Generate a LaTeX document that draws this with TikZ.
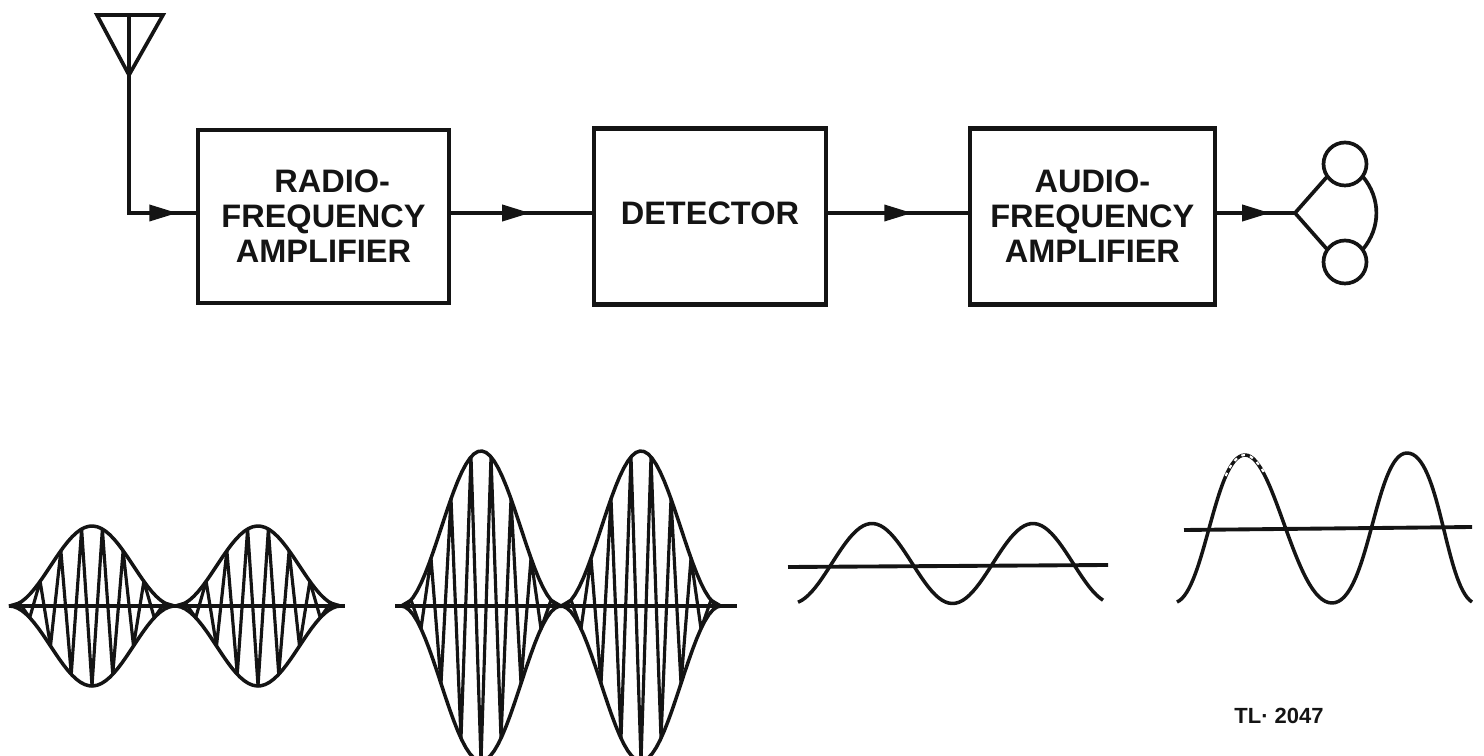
\documentclass[tikz,border=0pt]{standalone}
\usepackage{fontspec}
\setmainfont{Liberation Sans}
\usetikzlibrary{arrows.meta,positioning,decorations.markings}
\colorlet{ink}{black!92}
\tikzset{
  block/.style={draw=ink, line width=2.4pt, align=center, outer sep=0pt, text=ink,
    font=\fontsize{18.5}{20}\selectfont\bfseries},
  wire/.style={draw=ink, line width=2.1pt},
  midarr/.style={wire, postaction={decorate, decoration={markings,
    mark=at position #1 with {\arrow[ink]{Triangle[length=0.56cm,width=0.32cm]}}}}},
  ear/.style={circle, draw=ink, line width=2.1pt, minimum size=0.86cm, outer sep=0pt},
  trace/.style={draw=ink, line width=2pt, line join=round},
  baseline/.style={draw=ink, line width=2.2pt}
}
% left null, lobe width, amplitude, axis y, number of half periods
\newcommand{\amwave}[5]{
  \draw[trace] plot[samples=80, domain=#1:#1+2*#2] (\x,{#4-#3*(1-cos(360/#2*(\x-#1)))/2});
  \draw[trace] plot[samples=80, domain=#1:#1+2*#2] (\x,{#4+#3*(1-cos(360/#2*(\x-#1)))/2});
  \draw[trace, line width=1.8pt] plot[samples at={0,...,#5}]
    ({#1+\x*2*#2/#5},{#4-(mod(\x,2)*2-1)*#3*(1-cos(720/#5*\x))/2});
}
\begin{document}
\begin{tikzpicture}[x=0.02cm, y=-0.02cm]
  \useasboundingbox (0,0) rectangle (1484,756);

  \node[block, minimum width=5.02cm, minimum height=3.46cm] (rf) at (323.5,216.5) {\hspace{0.35cm}RADIO-\\FREQUENCY\\AMPLIFIER};
  \node[block, right=2.9cm of rf, minimum width=4.64cm, minimum height=3.52cm] (det) {\raisebox{0.12cm}{DETECTOR}};
  \node[block, right=2.88cm of det, minimum width=4.9cm, minimum height=3.52cm] (af) {AUDIO-\\FREQUENCY\\AMPLIFIER};

  % antenna
  \coordinate (antl) at (97,15);
  \coordinate (antr) at (163,15);
  \coordinate (antt) at (129,15);
  \coordinate (antb) at (129,75);
  \draw[wire, line join=miter] (antl) -- (antr) -- (antb) -- cycle;
  \draw[wire] (antt) -- (antb);
  \draw[midarr=0.9] (antb) |- ([yshift=0.07cm]rf.west);

  \draw[midarr=0.56] ([yshift=0.07cm]rf.east) -- ([yshift=0.07cm]det.west);
  \draw[midarr=0.6] ([yshift=0.07cm]det.east) -- ([yshift=0.07cm]af.west);

  % headphones
  \coordinate (phones) at (1295,213);
  \node[ear] (earu) at (1345,164) {};
  \node[ear] (eard) at (1345,262) {};
  \draw[midarr=0.69] ([yshift=0.07cm]af.east) -- (phones);
  \draw[wire] (earu.215) -- (phones) -- (eard.145);
  \draw[wire] (earu.-35) to[out=-50, in=50] (eard.35);

  % waveforms
  \draw[baseline] (12,606) -- (345,606);
  \amwave{9}{166}{80}{606}{32}
  \draw[baseline] (395,606) -- (737,606);
  \amwave{401}{160}{155}{606}{32}

  \draw[baseline] (788,567) -- (1108,565);
  \draw[trace] plot[samples=90, domain=798:1103] (\x,{563.5-40*cos(360/161*(\x-872))});

  \draw[baseline] (1184,530) -- (1472,527);
  \draw[trace] (1177,602) .. controls (1205,590) and (1215,455) .. (1245,455)
    .. controls (1275,455) and (1295,603) .. (1332,603)
    .. controls (1369,603) and (1375,453) .. (1407,453)
    .. controls (1440,453) and (1445,585) .. (1472,602);
  \draw[white, line width=1.2pt, dash pattern=on 2pt off 3pt] (1225.6,476) .. controls (1231,463.5) and (1237.5,455) .. (1245,455)
    .. controls (1252.5,455) and (1259.4,464.25) .. (1266,475.8);

  \node[text=ink, font=\fontsize{12.5}{14}\selectfont\bfseries] (tl) at (1279,716) {TL· 2047};
\end{tikzpicture}
\end{document}
